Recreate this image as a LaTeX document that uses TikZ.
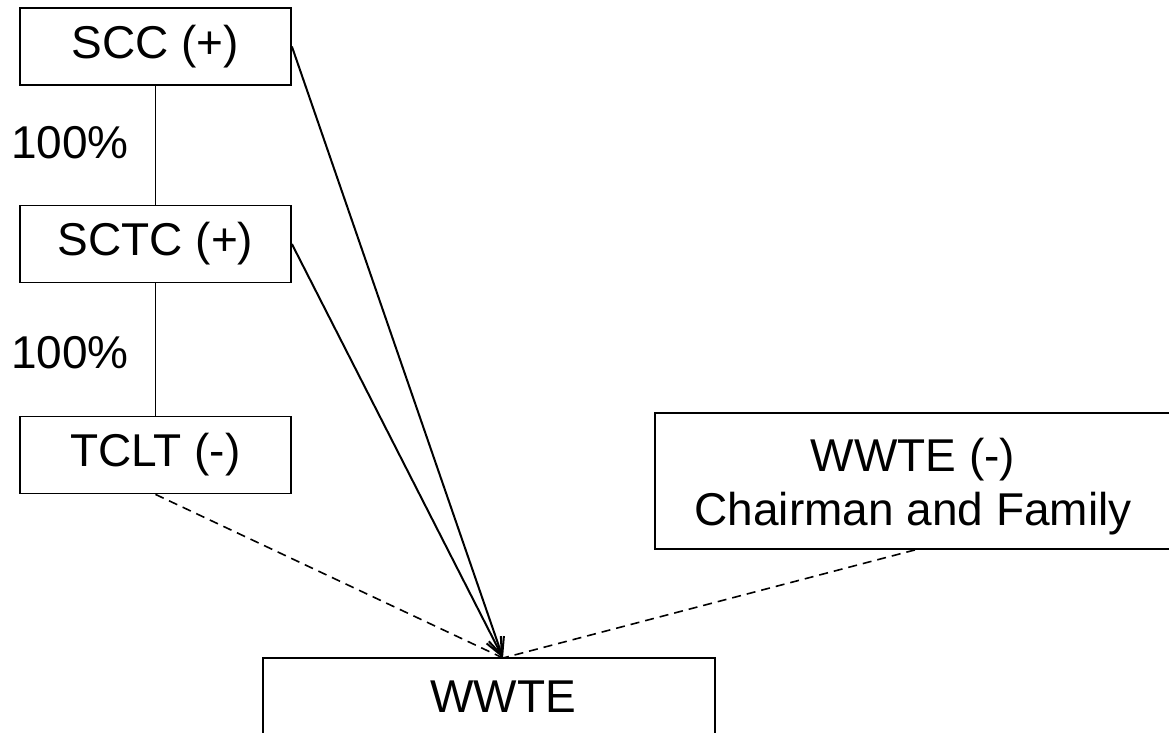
\documentclass[tikz,border=0pt]{standalone}
\usepackage{fontspec}
\setmainfont{Liberation Sans}
\usetikzlibrary{arrows.meta}
\begin{document}
\begin{tikzpicture}[x=1pt,y=-1pt,
  box/.style={draw, line width=1.8pt, inner sep=0pt, font=\fontsize{46}{52}\selectfont, align=center},
  pct/.style={font=\fontsize{46}{52}\selectfont, inner sep=0pt, align=center},
  link/.style={line width=1.6pt},
  own/.style={line width=2pt, -{Straight Barb[length=18pt,width=16pt,line width=2pt]}},
  weak/.style={line width=1.6pt, dash pattern=on 9pt off 6pt}]
\fill[white] (0,0) rectangle (1169,732);
\useasboundingbox (0,0) rectangle (1169,732);
\clip (0,0) rectangle (1169,732);
\node[box, minimum width=271pt, minimum height=77pt] (scc) at (155.5,46.5) {SCC (+)};
\node[box, minimum width=271pt, minimum height=77pt] (sctc) at (155.5,244) {SCTC (+)};
\node[box, minimum width=271pt, minimum height=77pt] (tclt) at (155.5,455) {TCLT (-)};
\node[box, minimum width=520pt, minimum height=136pt] (fam) at (915,481) {};
\node[pct] (famtxt) at (913,487) {WWTE (-)\\[2pt]Chairman and Family};
\node[box, minimum width=452pt, minimum height=80pt] (wwte) at (489,698) {};
\node[pct] (wwtetxt) at (503,697) {WWTE};
\node[pct] (p1) at (70,143) {100\%};
\node[pct] (p2) at (70,353) {100\%};
\coordinate (apex) at (503,658);
\draw[link] (scc) -- (sctc);
\draw[link] (sctc) -- (tclt);
\draw[own] (scc.east) -- (apex);
\draw[own] (sctc.east) -- (apex);
\draw[weak] (tclt.south) -- (apex);
\draw[weak] (fam.south) -- (apex);
\end{tikzpicture}
\end{document}
